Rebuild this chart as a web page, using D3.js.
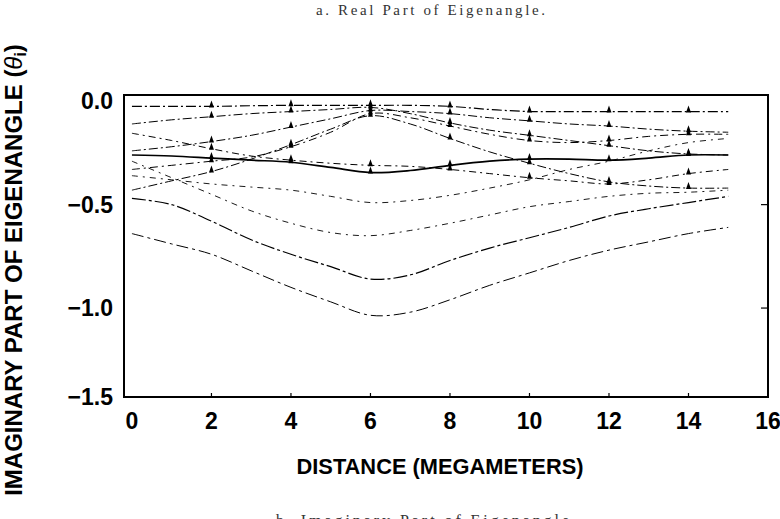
<!DOCTYPE html>
<html>
<head>
<meta charset="utf-8">
<script src="https://cdn.jsdelivr.net/npm/d3@7"></script>
<style>
	body { margin: 0; background: #fff; }
	svg { display: block; }
	.tick-label { font-family: "Liberation Sans", Arial, sans-serif; font-weight: bold; font-size: 23px; fill: #000; }
	.axis-title { font-family: "Liberation Sans", Arial, sans-serif; font-weight: bold; fill: #000; }
	.caption { font-family: "Liberation Serif", "Times New Roman", serif; fill: #333; }
</style>
</head>
<body>
<svg id="chart" width="780" height="519"></svg>
<script>
"use strict";

// distance along path, megameters
const distance = [0, 1, 2, 3, 4, 5, 6, 7, 8, 9, 10, 11, 12, 13, 14, 15];

// imaginary part of each mode's eigenangle
const mode1 = [-0.025, -0.025, -0.025, -0.022, -0.02, -0.02, -0.02, -0.02, -0.025, -0.04, -0.05, -0.05, -0.05, -0.05, -0.05, -0.05];
const mode2 = [-0.11, -0.09, -0.075, -0.06, -0.05, -0.04, -0.03, -0.06, -0.105, -0.14, -0.165, -0.19, -0.215, -0.24, -0.255, -0.26];
const mode3 = [-0.155, -0.19, -0.23, -0.265, -0.285, -0.30, -0.31, -0.315, -0.33, -0.35, -0.37, -0.385, -0.40, -0.38, -0.35, -0.33];
const mode4 = [-0.24, -0.22, -0.195, -0.165, -0.125, -0.085, -0.045, -0.05, -0.06, -0.08, -0.095, -0.11, -0.12, -0.135, -0.145, -0.15];
const mode5 = [-0.26, -0.265, -0.275, -0.285, -0.295, -0.32, -0.345, -0.335, -0.31, -0.29, -0.28, -0.28, -0.285, -0.275, -0.26, -0.26];
const mode6 = [-0.29, -0.37, -0.45, -0.53, -0.59, -0.635, -0.65, -0.625, -0.59, -0.55, -0.51, -0.485, -0.46, -0.445, -0.44, -0.43];
const mode7 = [-0.33, -0.31, -0.29, -0.27, -0.22, -0.15, -0.06, -0.08, -0.12, -0.16, -0.19, -0.20, -0.19, -0.17, -0.16, -0.16];
const mode8 = [-0.36, -0.38, -0.40, -0.415, -0.43, -0.46, -0.49, -0.48, -0.455, -0.42, -0.38, -0.33, -0.29, -0.24, -0.20, -0.18];
const mode9 = [-0.43, -0.385, -0.34, -0.28, -0.21, -0.135, -0.07, -0.11, -0.18, -0.245, -0.30, -0.35, -0.39, -0.41, -0.42, -0.42];
const mode10 = [-0.47, -0.50, -0.58, -0.67, -0.74, -0.80, -0.86, -0.84, -0.77, -0.71, -0.66, -0.61, -0.555, -0.52, -0.49, -0.46];
const mode11 = [-0.64, -0.69, -0.74, -0.82, -0.90, -0.97, -1.035, -1.02, -0.96, -0.89, -0.83, -0.77, -0.72, -0.68, -0.64, -0.61];

const xTicks = [0, 2, 4, 6, 8, 10, 12, 14, 16];
const yTicks = [0, -0.5, -1.0, -1.5];
const markerAt = [2, 4, 6, 8, 10, 12, 14];

const modes = [mode1, mode2, mode3, mode4, mode5, mode6, mode7, mode8, mode9, mode10, mode11];
// drawing style per mode (same order)
const styles = [
	{ w: 1.2, dash: '10,3,2,3', marks: true },
	{ w: 1.0, dash: '9,3,2,3', marks: true },
	{ w: 1.0, dash: '7,4,2,4', marks: true },
	{ w: 1.0, dash: '9,3,2,3', marks: true },
	{ w: 1.7, dash: null, marks: true },
	{ w: 0.9, dash: '6,5,2,5', marks: false },
	{ w: 1.0, dash: '8,4,2,4', marks: true },
	{ w: 0.9, dash: '6,5,2,5', marks: false },
	{ w: 1.0, dash: '9,3,2,3', marks: true },
	{ w: 1.2, dash: '14,3,3,3', marks: false },
	{ w: 1.0, dash: '12,4,3,4', marks: false },
];

const svg = d3.select('#chart');
const box = { left: 124, right: 768, top: 95, bottom: 397 };

const x = d3.scaleLinear().domain([-0.2, 16]).range([box.left, box.right]);
const y = d3.scaleLinear().domain([0.03, -1.43]).range([box.top, box.bottom]).clamp(true);

// captions
svg.append('text').attr('class', 'caption')
	.attr('x', 316).attr('y', 15)
	.attr('font-size', 15)
	.attr('textLength', 229).attr('lengthAdjust', 'spacing')
	.text('a.  Real Part of Eigenangle.');
svg.append('text').attr('class', 'caption')
	.attr('x', 276).attr('y', 526)
	.attr('font-size', 16)
	.attr('textLength', 300).attr('lengthAdjust', 'spacing')
	.text('b.  Imaginary Part of Eigenangle.');

// curves
const line = d3.line()
	.x((d) => x(d[0]))
	.y((d) => y(d[1]))
	.curve(d3.curveCatmullRom.alpha(0.5));

const g_lines = svg.append('g').attr('class', 'modes');
modes.forEach((vals, i) => {
	const st = styles[i];
	const pts = distance.map((dx, k) => [dx, vals[k]]);
	g_lines.append('path')
		.attr('d', line(pts))
		.attr('fill', 'none')
		.attr('stroke', '#000')
		.attr('stroke-width', st.w)
		.attr('stroke-dasharray', st.dash);
	if(!st.marks) return;
	g_lines.selectAll(null)
		.data(pts.filter((p) => markerAt.includes(p[0])))
		.enter()
		.append('path')
		.attr('transform', (d) => `translate(${x(d[0])},${y(d[1])})`)
		.attr('d', 'M-2.5,1 L0,-6 L2.5,1 Z')
		.attr('fill', '#000');
});

// frame
svg.append('rect')
	.attr('x', box.left).attr('y', box.top)
	.attr('width', box.right - box.left).attr('height', box.bottom - box.top)
	.attr('fill', 'none').attr('stroke', '#000').attr('stroke-width', 2);

// inward ticks
svg.append('g').selectAll('line')
	.data(xTicks.slice(1, -1))
	.enter().append('line')
	.attr('x1', (d) => x(d)).attr('x2', (d) => x(d))
	.attr('y1', box.bottom).attr('y2', box.bottom - 4)
	.attr('stroke', '#000').attr('stroke-width', 1.2);
svg.append('g').selectAll('line')
	.data(yTicks.slice(1, -1))
	.enter().append('line')
	.attr('x1', box.right).attr('x2', box.right - 7)
	.attr('y1', (d) => y(d)).attr('y2', (d) => y(d))
	.attr('stroke', '#000').attr('stroke-width', 1.2);

// tick labels
const fmt = (v) => (v < 0 ? '\u2212' : '') + d3.format('.1f')(Math.abs(v));
svg.append('g').selectAll('text')
	.data(yTicks)
	.enter().append('text')
	.attr('class', 'tick-label')
	.attr('x', 113)
	.attr('y', (d) => y(d))
	.attr('dy', '0.36em')
	.attr('text-anchor', 'end')
	.text(fmt);
svg.append('g').selectAll('text')
	.data(xTicks)
	.enter().append('text')
	.attr('class', 'tick-label')
	.attr('x', (d) => x(d))
	.attr('y', 429)
	.attr('text-anchor', 'middle')
	.text((d) => d);

// axis titles
svg.append('text').attr('class', 'axis-title')
	.attr('x', 440).attr('y', 474)
	.attr('font-size', 22)
	.attr('text-anchor', 'middle')
	.attr('textLength', 287).attr('lengthAdjust', 'spacingAndGlyphs')
	.text('DISTANCE (MEGAMETERS)');

const ytitle = svg.append('text').attr('class', 'axis-title')
	.attr('transform', 'translate(22,270) rotate(-90)')
	.attr('font-size', 24)
	.attr('text-anchor', 'middle');
ytitle.append('tspan').text('IMAGINARY PART OF EIGENANGLE (');
ytitle.append('tspan').attr('font-style', 'italic').attr('font-weight', 'normal').text('\u03b8');
ytitle.append('tspan').attr('font-size', 16).attr('dy', 4).text('i');
ytitle.append('tspan').attr('dy', -4).text(')');
</script>
</body>
</html>
